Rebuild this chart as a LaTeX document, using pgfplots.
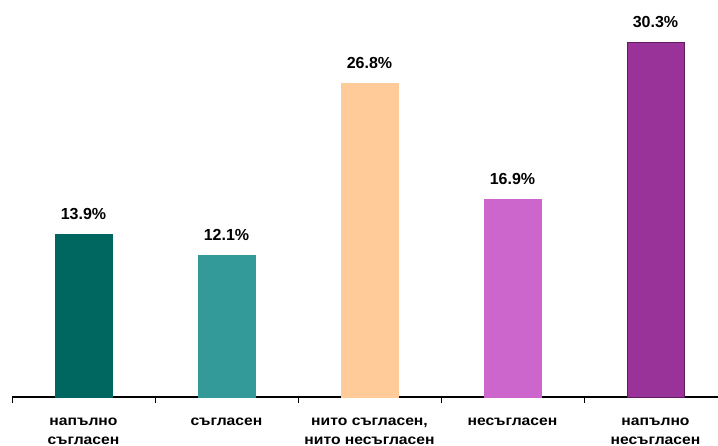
\documentclass[border=0pt]{standalone}
\usepackage{fontspec}
\setmainfont{Liberation Sans}
\newfontfamily\lblfont[FakeStretch=1.12]{Liberation Sans}
\usepackage{pgfplots}
\pgfplotsset{compat=1.18}
\definecolor{c1}{HTML}{006660}
\definecolor{c2}{HTML}{339999}
\definecolor{c3}{HTML}{FFCC99}
\definecolor{c4}{HTML}{CC66CC}
\definecolor{c5}{HTML}{993399}
\begin{document}
\begin{tikzpicture}
\useasboundingbox (0,0) rectangle (718bp,446bp);
\begin{axis}[
  at={(12bp,49bp)}, anchor=south west,
  scale only axis, width=706bp, height=397bp,
  xmin=-0.5, xmax=4.437, ymin=0, ymax=33.93,
  ybar, bar width=57bp, bar shift=0pt,
  axis x line*=bottom, axis y line=none,
  axis line style={black, line width=1.2pt},
  xtick={0,1,2,3,4},
  xticklabels={{напълно\\съгласен},{съгласен},{нито съгласен,\\нито несъгласен},{несъгласен},{напълно\\несъгласен}},
  major tick length=0pt,
  xticklabel style={font=\lblfont\bfseries\fontsize{14bp}{19bp}\selectfont, align=center, anchor=north, inner ysep=0pt, yshift=-20.5bp},
  extra x ticks={-0.5,0.5,1.5,2.5,3.5,4.5},
  extra x tick labels={},
  extra x tick style={major tick length=6bp, tick align=outside, tick style={black, line width=0.8pt}},
  /pgf/number format/assume math mode=true,
  nodes near coords={\pgfmathprintnumber[fixed,precision=1,fixed zerofill]{\pgfplotspointmeta}\%},
  every node near coord/.append style={font=\bfseries\fontsize{16bp}{18bp}\selectfont, black, anchor=center, yshift=20bp},
  clip=false,
]
\addplot[fill=c1, draw=c1] coordinates {(0,13.9)};
\addplot[fill=c2, draw=c2] coordinates {(1,12.1)};
\addplot[fill=c3, draw=c3] coordinates {(2,26.8)};
\addplot[fill=c4, draw=c4] coordinates {(3,16.9)};
\addplot[fill=c5, draw=c5!60!black, line width=0.8pt] coordinates {(4,30.3)};
\end{axis}
\end{tikzpicture}
\end{document}
